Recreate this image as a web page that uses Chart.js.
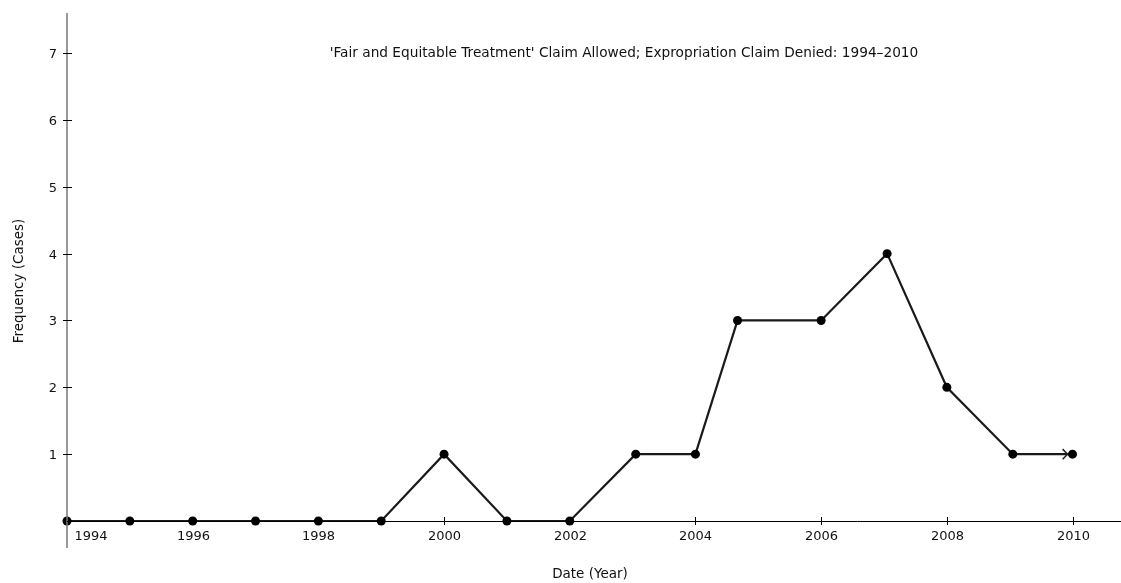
<!DOCTYPE html>
<html>
<head>
<meta charset="utf-8">
<script src="https://cdn.jsdelivr.net/npm/chart.js@4"></script>
<style>
  body { margin: 0; background: #fff; }
  #wrap { width: 1121px; height: 583px; position: relative; }
</style>
</head>
<body>
<div id="wrap"><canvas id="chart1"></canvas></div>
<script>
// data
var years = [1994, 1995, 1996, 1997, 1998, 1999, 2000, 2001, 2002, 2003.05, 2004, 2004.67, 2006, 2007.05, 2008, 2009.05, 2010];
var cases = [0, 0, 0, 0, 0, 0, 1, 0, 0, 1, 1, 3, 3, 4, 2, 1, 1];
var xTicks = [1994, 1996, 1998, 2000, 2002, 2004, 2006, 2008, 2010];
var yTicks = [1, 2, 3, 4, 5, 6, 7];

var chartTitle = "'Fair and Equitable Treatment' Claim Allowed; Expropriation Claim Denied: 1994\u20132010";
var xTitle = 'Date (Year)';
var yTitle = 'Frequency (Cases)';
var FONT = '"DejaVu Sans", sans-serif';

var axesPlugin = {
  id: 'axesPlugin',
  afterDatasetsDraw: function(chart) {
    var ctx = chart.ctx;
    var x = chart.scales.x, y = chart.scales.y;
    var area = chart.chartArea;
    var y0 = y.getPixelForValue(0);
    ctx.save();

    // y axis line
    ctx.strokeStyle = '#777';
    ctx.lineWidth = 1.5;
    ctx.beginPath();
    ctx.moveTo(area.left, area.top);
    ctx.lineTo(area.left, y0 + 27);
    ctx.stroke();

    // x axis line
    ctx.strokeStyle = '#000';
    ctx.lineWidth = 1;
    ctx.beginPath();
    ctx.moveTo(area.left, y0 + 0.5);
    ctx.lineTo(chart.width, y0 + 0.5);
    ctx.stroke();

    // y ticks + labels
    ctx.font = '13px ' + FONT;
    ctx.fillStyle = '#111';
    ctx.textAlign = 'right';
    ctx.textBaseline = 'middle';
    yTicks.forEach(function(v) {
      var py = Math.round(y.getPixelForValue(v)) + 0.5;
      ctx.strokeStyle = '#000';
      ctx.beginPath();
      ctx.moveTo(area.left - 4, py);
      ctx.lineTo(area.left + 5, py);
      ctx.stroke();
      ctx.fillText(String(v), area.left - 10, py + 1);
    });

    // x ticks + labels
    ctx.textBaseline = 'top';
    xTicks.forEach(function(v, i) {
      var px = Math.round(x.getPixelForValue(v)) + 0.5;
      if (i > 0) {
        ctx.beginPath();
        ctx.moveTo(px, y0 - 4);
        ctx.lineTo(px, y0 + 4);
        ctx.stroke();
        ctx.textAlign = 'center';
        ctx.fillText(String(v), px, y0 + 9);
      } else {
        ctx.textAlign = 'left';
        ctx.fillText(String(v), px + 7, y0 + 9);
      }
    });

    // arrow head on the last segment
    var pts = chart.getDatasetMeta(0).data;
    var a = pts[pts.length - 2], b = pts[pts.length - 1];
    var ang = Math.atan2(b.y - a.y, b.x - a.x);
    var tx = b.x - 5 * Math.cos(ang), ty = b.y - 5 * Math.sin(ang);
    ctx.strokeStyle = '#222';
    ctx.lineWidth = 1.5;
    ctx.beginPath();
    ctx.moveTo(tx - 7 * Math.cos(ang - 0.8), ty - 7 * Math.sin(ang - 0.8));
    ctx.lineTo(tx, ty);
    ctx.lineTo(tx - 7 * Math.cos(ang + 0.8), ty - 7 * Math.sin(ang + 0.8));
    ctx.stroke();

    // titles
    ctx.fillStyle = '#111';
    ctx.textAlign = 'center';
    ctx.textBaseline = 'middle';
    ctx.font = '13.7px ' + FONT;
    ctx.fillText(chartTitle, 624, 53);
    ctx.font = '13.5px ' + FONT;
    ctx.fillText(xTitle, 590, 574);
    ctx.translate(19, 281);
    ctx.rotate(-Math.PI / 2);
    ctx.fillText(yTitle, 0, 0);
    ctx.restore();
  }
};

function generateChart(containerId) {
  new Chart(containerId, {
    type: 'line',
    data: {
      datasets: [{
        data: years.map(function(yr, i) { return {x: yr, y: cases[i]}; }),
        borderColor: '#1a1a1a',
        borderWidth: 2.2,
        pointRadius: 4.5,
        pointBackgroundColor: '#000',
        pointBorderColor: '#000',
        pointBorderWidth: 0,
        tension: 0,
        clip: false
      }]
    },
    options: {
      responsive: true,
      maintainAspectRatio: false,
      animation: false,
      layout: {padding: {top: 13, right: 0, bottom: 0, left: 0}},
      plugins: {legend: {display: false}, title: {display: false}, tooltip: {enabled: false}},
      scales: {
        x: {
          type: 'linear', min: 1994, max: 2010.7,
          grid: {display: false}, border: {display: false},
          ticks: {display: false},
          afterFit: function(s) { s.height = 62; }
        },
        y: {
          min: 0, max: 7.6,
          grid: {display: false}, border: {display: false},
          ticks: {display: false},
          afterFit: function(s) { s.width = 67; }
        }
      }
    },
    plugins: [axesPlugin]
  });
}

document.addEventListener('DOMContentLoaded', function() {
  generateChart('chart1');
});
</script>
</body>
</html>
